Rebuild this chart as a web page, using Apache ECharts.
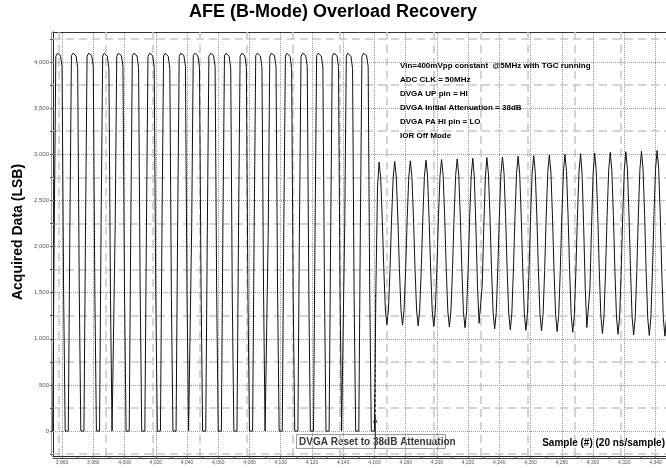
<!DOCTYPE html>
<html>
<head>
<meta charset="utf-8">
<script src="https://cdn.jsdelivr.net/npm/echarts@6/dist/echarts.min.js"></script>
<style>html,body{margin:0;padding:0;background:#fff}#c{width:666px;height:468px}</style>
</head>
<body>
<div id="c"></div>
<script>
// ---- data ----
const sampleStart = 3954;            // first sample number shown
const transitionSample = 4161;       // DVGA reset
// ADC samples before the DVGA reset (overloaded, clipped)
const preResetValues = [0,2200,
4060,4095,4095,4070,3950,1500,0,0,0,2200,
4070,4095,4090,4065,3940,1550,0,0,0,2150,
4060,4095,4095,4070,3950,1500,0,0,0,2250,
4065,4095,4095,4060,3930,1450,0,0,2200,
4060,4095,4095,4070,3950,1500,0,0,0,2200,
4070,4095,4090,4065,3940,1550,0,0,0,2150,
4060,4095,4095,4070,3950,1500,0,0,0,2250,
4065,4095,4095,4060,3930,1450,0,0,0,2200,
4060,4095,4095,4070,3950,1500,0,0,2200,
4070,4095,4090,4065,3940,1550,0,0,0,2150,
4060,4095,4095,4070,3950,1500,0,0,0,2250,
4065,4095,4095,4060,3930,1450,0,0,0,2200,
4060,4095,4095,4070,3950,1500,0,0,0,2200,
4070,4095,4090,4065,3940,1550,0,0,2150,
4060,4095,4095,4070,3950,1500,0,0,0,2250,
4065,4095,4095,4060,3930,1450,0,0,0,2200,
4060,4095,4095,4070,3950,1500,0,0,0,2200,
4070,4095,4090,4065,3940,1550,0,0,0,2150,
4060,4095,4095,4070,3950,1500,0,0,2250,
4065,4095,4095,4060,3930,1450,0,0,0,2200,
4060,4095,4095,4070,3950,1500,0,0,0];
// ADC samples after the DVGA reset (recovered, TGC running)
const postResetValues = [1600,2650,
2915,2747,2307,1763,1323,1155,1323,1763,2307,2747,
2922,2753,2309,1761,1317,1148,1317,1761,2309,2753,
2929,2758,2311,1759,1312,1141,1312,1759,2311,2758,
2936,2764,2313,1757,1306,1134,1306,1757,2313,2764,
2943,2770,2316,1754,1300,1127,1300,1754,2316,2770,
2950,2775,2318,1752,1295,1120,1295,1752,2318,2775,
2957,2741,2195,1574,1168,1168,1574,2195,2741,
2964,2787,2322,1748,1283,1106,1283,1748,2322,2787,
2971,2792,2324,1746,1278,1099,1278,1746,2324,2792,
2978,2798,2326,1744,1272,1092,1272,1744,2326,2798,
2985,2804,2329,1741,1266,1085,1266,1741,2329,2804,
2992,2809,2331,1739,1261,1078,1261,1739,2331,2809,
2999,2815,2333,1737,1255,1071,1255,1737,2333,2815,
3006,2779,2204,1549,1122,1122,1549,2204,2779,
3013,2826,2337,1733,1244,1057,1244,1733,2337,2826,
3020,2832,2339,1731,1238,1050,1238,1731,2339,2832,
3027,2838,2342,1728,1232,1043,1232,1728,2342,2838,
3034,2843,2344,1726,1227,1036,1226,1726,2344,2843,
3041,2849,2346,1724,1221,1029,1221];

const xTickLabels = [3960,3980,4000,4020,4040,4060,4080,4100,4120,4140,4160,4180,4200,4220,4240,4260,4280,4300,4320,4340];
const xMinorTicks = [3970,3990,4010,4030,4050,4070,4090,4110,4130,4150,4170,4190,4210,4230,4250,4270,4290,4310,4330];
const xDashedGrid = [3958,3988,4018,4048,4078,4108,4138,4168,4198,4228,4258,4288,4318];
const yTickLabels = [0,500,1000,1500,2000,2500,3000,3500,4000];
const yMinorTicks = [-250,250,750,1250,1750,2250,2750,3250,3750,4250];

const notes = [
  'Vin=400mVpp constant  @5MHz with TGC running',
  'ADC CLK = 50MHz',
  'DVGA UP pin = HI',
  'DVGA Initial Attenuation = 38dB',
  'DVGA PA HI pin = LO',
  'IOR Off Mode'
];

// ---- build ----
const allValues = preResetValues.concat(postResetValues);
const seriesData = allValues.map((v, i) => [sampleStart + i, v]);

const X_MIN = 3954.2, X_MAX = 4346.7, Y_MIN = -270, Y_MAX = 4325;
const FONT = '"Liberation Sans", Arial, sans-serif';
const fmt = v => Number(v).toLocaleString('en-US');

const dotted = {type: 'dotted', color: '#9a9a9a', width: 1};
const dashed = {type: [8, 5], color: '#c6c6c6', width: 1.5};

const gridLines = [];
xTickLabels.forEach(v => gridLines.push({xAxis: v, lineStyle: dotted}));
xDashedGrid.forEach(v => gridLines.push({xAxis: v, lineStyle: dashed}));
yTickLabels.forEach(v => gridLines.push({yAxis: v, lineStyle: dotted}));
yMinorTicks.forEach(v => gridLines.push({yAxis: v, lineStyle: dashed}));

const chart = echarts.init(document.getElementById('c'), null, {renderer: 'canvas'});
const xBase = {type: 'value', min: X_MIN, max: X_MAX, splitLine: {show: false}};
const yBase = {type: 'value', min: Y_MIN, max: Y_MAX, splitLine: {show: false}};

chart.setOption({
  animation: false,
  backgroundColor: '#ffffff',
  grid: {left: 53, right: 0, top: 32, bottom: 12, containLabel: false},
  xAxis: [
    Object.assign({}, xBase, {
      position: 'bottom',
      axisLine: {show: true, onZero: false, lineStyle: {color: '#222', width: 1}},
      axisTick: {show: true, length: 3, customValues: xTickLabels.concat(xMinorTicks), lineStyle: {color: '#555'}},
      axisLabel: {show: true, customValues: xTickLabels, formatter: fmt, fontSize: 5, color: '#555', fontFamily: FONT, margin: 4}
    }),
    Object.assign({}, xBase, {
      position: 'bottom', offset: 2,
      axisLine: {show: true, onZero: false, lineStyle: {color: '#444', width: 1}},
      axisTick: {show: false}, axisLabel: {show: false}
    }),
    Object.assign({}, xBase, {
      position: 'top',
      axisLine: {show: true, onZero: false, lineStyle: {color: '#333', width: 1}},
      axisTick: {show: false}, axisLabel: {show: false}
    })
  ],
  yAxis: [
    Object.assign({}, yBase, {
      position: 'left',
      axisLine: {show: true, onZero: false, lineStyle: {color: '#222', width: 1}},
      axisTick: {show: true, length: 3, customValues: yTickLabels.concat(yMinorTicks), lineStyle: {color: '#555'}},
      axisLabel: {show: true, customValues: yTickLabels, formatter: fmt, fontSize: 6, color: '#555', fontFamily: FONT, margin: 4}
    }),
    Object.assign({}, yBase, {
      position: 'left', offset: 2,
      axisLine: {show: true, onZero: false, lineStyle: {color: '#999', width: 1}},
      axisTick: {show: false}, axisLabel: {show: false}
    })
  ],
  series: [
    {
      name: 'grid', type: 'line', z: 1, xAxisIndex: 0, yAxisIndex: 0,
      data: [[4000, 2000]], symbol: 'none', lineStyle: {opacity: 0}, silent: true,
      markLine: {silent: true, symbol: 'none', label: {show: false}, animation: false, data: gridLines}
    },
    {
      name: 'Acquired Data', type: 'line', z: 5, xAxisIndex: 0, yAxisIndex: 0,
      data: seriesData, symbol: 'none', smooth: false, clip: true,
      lineStyle: {color: '#111', width: 1},
      markLine: {
        silent: true, label: {show: false}, animation: false,
        data: [
          [{coord: [transitionSample - 0.5, 150], symbol: 'none', lineStyle: {type: [3, 2], color: '#444', width: 1}},
           {coord: [transitionSample - 0.5, 1500], symbol: 'none'}],
          [{coord: [transitionSample - 0.5, -195], symbol: 'none', lineStyle: {type: 'solid', color: '#444', width: 1}},
           {coord: [transitionSample - 0.5, 150], symbol: 'arrow', symbolSize: [4, 6]}]
        ]
      }
    }
  ],
  graphic: [
    {type: 'text', left: 'center', top: 3, z: 10,
     style: {text: 'AFE (B-Mode) Overload Recovery', font: 'bold 18px ' + FONT, fill: '#000'}},
    {type: 'text', x: 18, y: 232, rotation: Math.PI / 2, z: 10,
     style: {text: 'Acquired Data (LSB)', font: 'bold 14px ' + FONT, fill: '#000', align: 'center', verticalAlign: 'middle'}},
    {type: 'rect', z: 3, shape: {x: 296.5, y: 434.5, width: 149, height: 14},
     style: {fill: '#fafafa', stroke: '#9a9a9a', lineWidth: 1}},
    {type: 'text', x: 299, y: 442, z: 4,
     style: {text: 'DVGA Reset to 38dB Attenuation', font: 'bold 10px ' + FONT, fill: '#3a3a3a', verticalAlign: 'middle'}},
    {type: 'text', x: 665, y: 443, z: 10,
     style: {text: 'Sample (#) (20 ns/sample)', font: 'bold 10px ' + FONT, fill: '#000', align: 'right', verticalAlign: 'middle'}}
  ].concat(notes.map((t, i) => ({
    type: 'text', x: 400, y: 66 + i * 14, z: 10,
    style: {text: t, font: 'bold 8px ' + FONT, fill: '#000', verticalAlign: 'middle'}
  })))
});
</script>
</body>
</html>
